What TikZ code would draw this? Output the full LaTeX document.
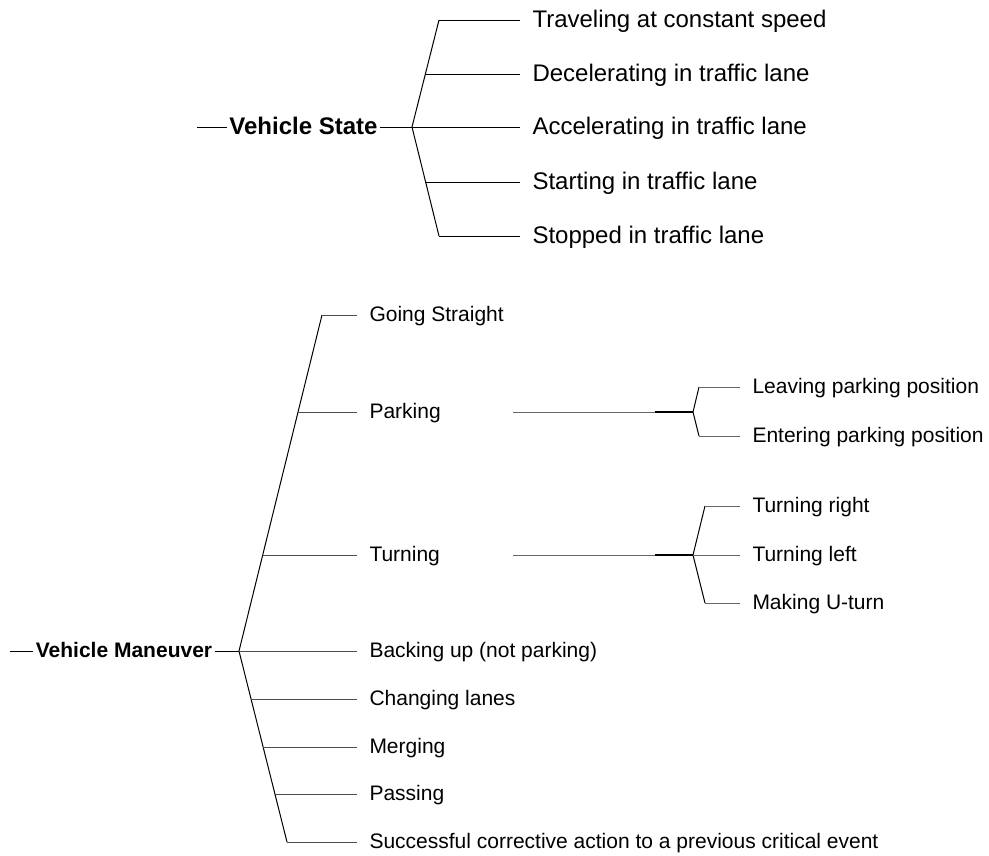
\documentclass[tikz,border=0pt]{standalone}
\usepackage{fontspec}
\setmainfont{Liberation Sans}
\begin{document}
\begin{tikzpicture}[x=1pt,y=-1pt,line width=1pt,
  bigtxt/.style={font=\fontsize{24}{28}\selectfont,anchor=west,inner xsep=12pt,inner ysep=0pt,text height=17.5pt,text depth=3.5pt},
  smalltxt/.style={font=\fontsize{21}{25}\selectfont,anchor=west,inner xsep=12pt,inner ysep=0pt,text height=16pt,text depth=3pt},
  bigroot/.style={font=\fontsize{24}{28}\selectfont\bfseries,inner xsep=2pt,inner ysep=0pt,text height=17.5pt,text depth=3.5pt},
  smallroot/.style={font=\fontsize{21}{25}\selectfont\bfseries,inner xsep=2pt,inner ysep=0pt,text height=16pt,text depth=3pt},
  fan/.style={draw=black,line width=1pt},
  twig/.style={draw=black!70,line width=1pt},
  thin/.style={draw=black!60,line width=1pt},
  thick/.style={draw=black,line width=2pt}
]
\useasboundingbox (0,0) rectangle (989,855);

% ---------- Vehicle State ----------
\coordinate (vsL) at (197,127);
\node[bigroot] (vs) at (303.5,127) {Vehicle State};
\coordinate (vsF) at (412,127);
\coordinate (vsT) at (439,20);
\coordinate (vsB) at (439,236);
\coordinate (vs2) at (425.4,74);
\coordinate (vs4) at (425.4,182);
\draw[fan] (vsL) -- (vs.west);
\draw[fan] (vs.east) -- (vsF);
\draw[fan] (vsT) -- (vsF) -- (vsB);
\node[bigtxt] (s1) at (520,20) {Traveling at constant speed};
\node[bigtxt] (s2) at (520,74) {Decelerating in traffic lane};
\node[bigtxt] (s3) at (520,127) {Accelerating in traffic lane};
\node[bigtxt] (s4) at (520,182) {Starting in traffic lane};
\node[bigtxt] (s5) at (520,236) {Stopped in traffic lane};
\draw[fan] (vsT) -- (s1.west);
\draw[fan] (vs2) -- (s2.west);
\draw[fan] (vsF) -- (s3.west);
\draw[fan] (vs4) -- (s4.west);
\draw[fan] (vsB) -- (s5.west);

% ---------- Vehicle Maneuver ----------
\coordinate (vmL) at (10,651);
\node[smallroot] (vm) at (124,651) {Vehicle Maneuver};
\coordinate (vmF) at (239,651);
\coordinate (vmT) at (322,315);
\coordinate (vmB) at (287,842);
\coordinate (vm2) at (298,412);
\coordinate (vm3) at (262.7,555);
\coordinate (vm5) at (251.1,699);
\coordinate (vm6) at (263.1,747);
\coordinate (vm7) at (274.9,794);
\draw[fan] (vmL) -- (vm.west);
\draw[fan] (vm.east) -- (vmF);
\draw[fan] (vmT) -- (vmF) -- (vmB);
\node[smalltxt] (m1) at (357,315) {Going Straight};
\node[smalltxt] (m2) at (357,412) {Parking};
\node[smalltxt] (m3) at (357,555) {Turning};
\node[smalltxt] (m4) at (357,651) {Backing up (not parking)};
\node[smalltxt] (m5) at (357,699) {Changing lanes};
\node[smalltxt] (m6) at (357,747) {Merging};
\node[smalltxt] (m7) at (357,794) {Passing};
\node[smalltxt] (m8) at (357,842) {Successful corrective action to a previous critical event};
\draw[twig] (vmT) -- (m1.west);
\draw[twig] (vm2) -- (m2.west);
\draw[twig] (vm3) -- (m3.west);
\draw[twig] (vmF) -- (m4.west);
\draw[twig] (vm5) -- (m5.west);
\draw[twig] (vm6) -- (m6.west);
\draw[twig] (vm7) -- (m7.west);
\draw[twig] (vmB) -- (m8.west);

% ---------- Parking subtree ----------
\coordinate (pA) at (513,412);
\coordinate (pB) at (655,412);
\coordinate (pF) at (693,412);
\coordinate (pT) at (699,387);
\coordinate (pD) at (699,436);
\draw[thin] (pA) -- (pB);
\draw[thick] (pB) -- (pF);
\draw[fan] (pT) -- (pF) -- (pD);
\node[smalltxt] (p1) at (740,387) {Leaving parking position};
\node[smalltxt] (p2) at (740,436) {Entering parking position};
\draw[thin] (pT) -- (p1.west);
\draw[thin] (pD) -- (p2.west);

% ---------- Turning subtree ----------
\coordinate (tA) at (513,555);
\coordinate (tB) at (655,555);
\coordinate (tF) at (693,555);
\coordinate (tT) at (705,506);
\coordinate (tD) at (705,603);
\draw[thin] (tA) -- (tB);
\draw[thick] (tB) -- (tF);
\draw[fan] (tT) -- (tF) -- (tD);
\node[smalltxt] (t1) at (740,506) {Turning right};
\node[smalltxt] (t2) at (740,555) {Turning left};
\node[smalltxt] (t3) at (740,603) {Making U-turn};
\draw[thin] (tT) -- (t1.west);
\draw[thin] (tF) -- (t2.west);
\draw[thin] (tD) -- (t3.west);
\end{tikzpicture}
\end{document}
